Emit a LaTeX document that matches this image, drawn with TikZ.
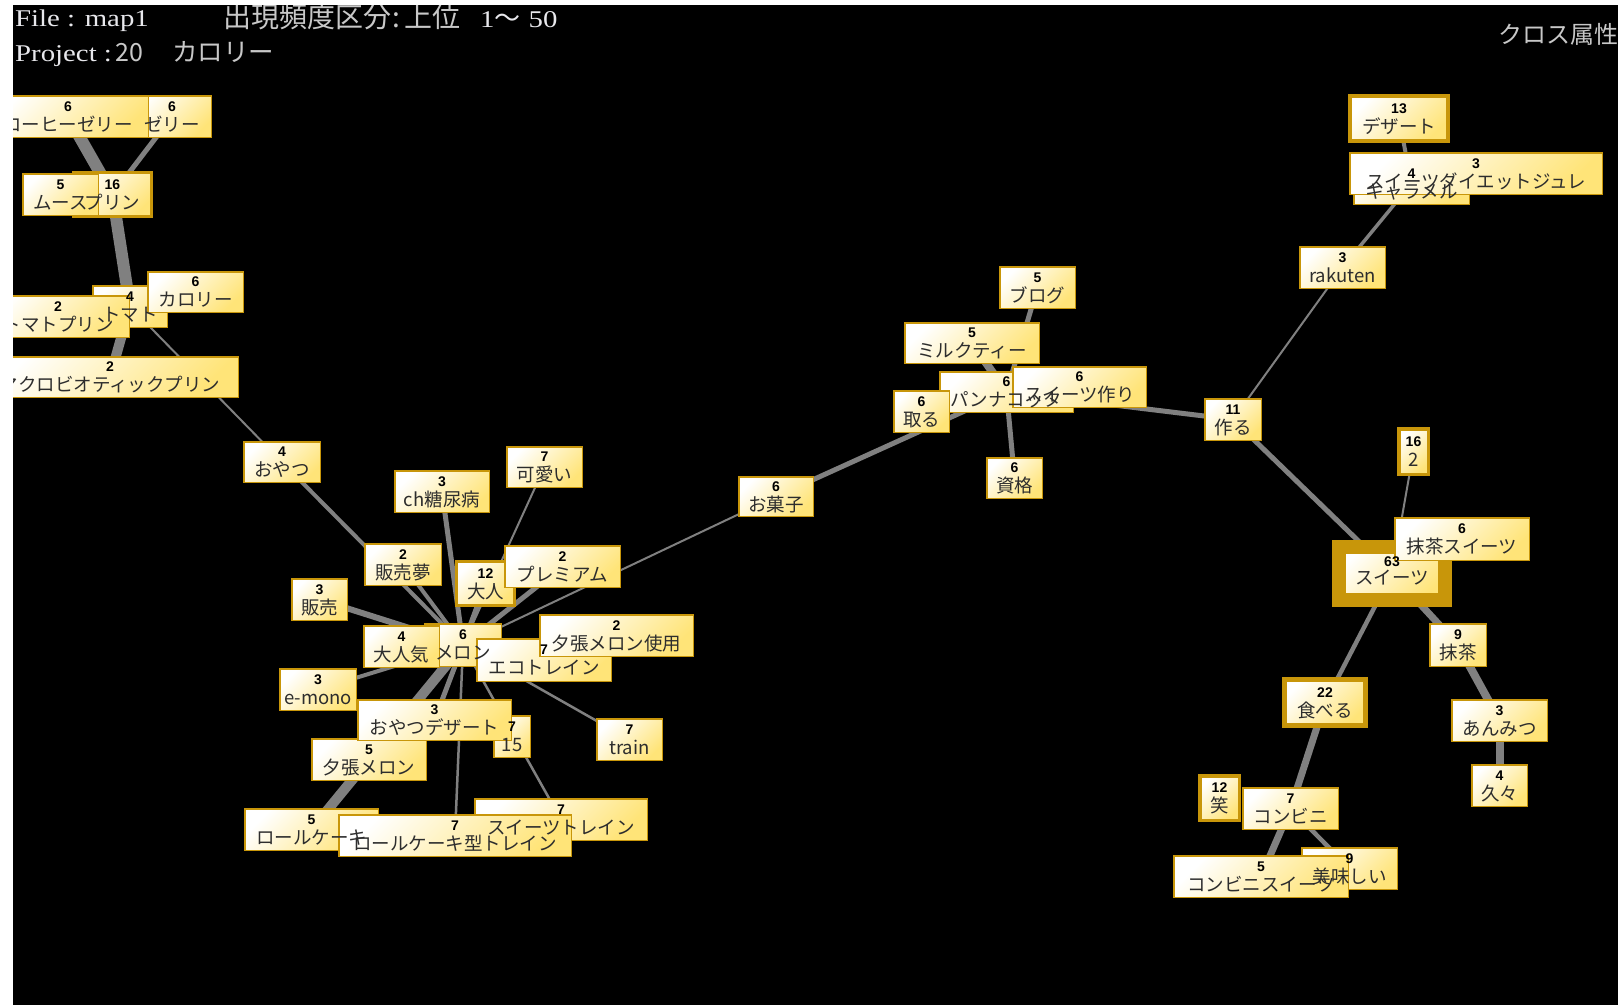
\documentclass[tikz,border=0pt]{standalone}
\usepackage{fontspec}
\setmainfont{Liberation Serif}
\newfontfamily\jp{Noto Sans CJK JP}
\newfontfamily\numf{Liberation Sans}
\newfontfamily\serfw{Liberation Serif}[FakeStretch=1.2]
\pgfdeclarelayer{back}
\pgfdeclarelayer{edges}
\pgfdeclarelayer{texts}
\pgfdeclarelayer{top}
\pgfsetlayers{back,edges,main,texts,top}
\definecolor{kyel}{RGB}{255,228,120}
\definecolor{kbord}{RGB}{200,150,10}
\definecolor{kedge}{RGB}{128,128,128}
\definecolor{kword}{RGB}{45,45,45}
\definecolor{khead}{RGB}{232,232,236}
\definecolor{khead2}{RGB}{200,200,200}
\tikzset{
  kb/.style={draw=kbord, top color=white, bottom color=kyel, shading angle=45,
    inner sep=0pt, outer sep=0pt, rectangle},
  numt/.style={font=\numf\bfseries\fontsize{14}{14}\selectfont, inner sep=0pt,
    text=black, text height=10pt, text depth=0pt},
  wordt/.style={font=\jp\fontsize{18.5}{18.5}\selectfont, inner sep=0pt,
    text=kword, text height=16pt, text depth=2.2pt},
  ed/.style={draw=kedge, line cap=butt},
  headt/.style={inner sep=0pt, anchor=base west},
}
% name, left, top, right, bottom, line width
\newcommand\kbx[6]{\node[kb, line width=#6pt,
  minimum width={(#4)-(#2)-(#6)}, minimum height={(#5)-(#3)-(#6)}]
  (#1) at ({((#2)+(#4))/2},{((#3)+(#5))/2}) {};}
\newcommand\klab[3]{\node[numt] (#1-n) at ([yshift=10.5pt]#1.center) {#2};
  \node[wordt] (#1-w) at ([yshift=-8pt]#1.center) {#3};}
\newcommand\klabx[5]{\node[numt] (#1-n) at ([yshift=#4pt]#1.center) {#2};
  \node[wordt] (#1-w) at ([yshift=#5pt]#1.center) {#3};}

\begin{document}
\begin{tikzpicture}[x=1pt,y=-1pt]
\useasboundingbox (0,0) rectangle (1618,1005);
\begin{pgfonlayer}{back}
  \fill[white] (0,0) rectangle (1618,1005);
  \fill[black] (13,5) rectangle (1618,1005);
\end{pgfonlayer}

% header
\node[headt, font=\serfw\fontsize{24}{24}\selectfont, text=khead] (hfile) at (15,26) {File : map1};
\node[headt, font=\jp\fontsize{28}{28}\selectfont, text=khead2] (hfreq) at (223,27)
  {出現頻度区分\kern1pt:\kern5pt上位};
\node[headt, font=\serfw\fontsize{24}{24}\selectfont, text=khead] (hrange) at (480,27)
  {1{\jp\fontsize{26}{26}\selectfont〜}\kern8pt 50};
\node[headt, font=\serfw\fontsize{24}{24}\selectfont, text=khead] (hproj) at (15,61) {Project :};
\node[headt, font=\jp\fontsize{25}{25}\selectfont, text=khead2] (hnum) at (115,61) {20};
\node[headt, font=\jp\fontsize{25.5}{25.5}\selectfont, text=khead2] (hcal) at (172,61) {カロリー};
\node[headt, font=\jp\fontsize{24}{24}\selectfont, text=khead2] (hcross) at (1498,43) {クロス属性};

% boxes
\kbx{zeri}{132}{95}{212}{138}{1.5}
\kbx{coffee}{-13}{95}{149}{138}{1.5}
\kbx{purin}{72}{171}{153}{218}{3}
\kbx{mousse}{22}{173}{99}{216}{1.5}
\kbx{tomato}{92}{285}{168}{328}{1.5}
\kbx{tomatopurin}{-14}{295}{130}{338}{1.5}
\kbx{calorie}{147}{271}{244}{313}{1.5}
\kbx{macro}{-19}{356}{239}{398}{1.5}
\kbx{oyatsu}{243}{441}{321}{483}{1.5}
\kbx{ch}{394}{470}{490}{513}{1.5}
\kbx{kawaii}{506}{446}{583}{488}{1.5}
\kbx{hanbaimu}{364}{543}{442}{586}{1.5}
\kbx{hanbai}{291}{578}{348}{621}{1.5}
\kbx{otona}{455}{560}{516}{607}{3}
\kbx{premium}{504}{545}{621}{588}{1.5}
\kbx{melon}{424}{623}{502}{667}{1.5}
\kbx{ninki}{363}{625}{440}{668}{1.5}
\kbx{eco}{476}{638}{612}{682}{1.5}
\kbx{yubariuse}{539}{614}{694}{657}{1.5}
\kbx{emono}{279}{668}{357}{711}{1.5}
\kbx{nfifteen}{493}{715}{531}{758}{1.5}
\kbx{yubari}{311}{738}{427}{781}{1.5}
\kbx{oyatsudessert}{357}{699}{512}{741}{1.5}
\kbx{train}{596}{718}{663}{761}{1.5}
\kbx{rollcake}{244}{808}{379}{851}{1.5}
\kbx{sweetstrain}{474}{798}{648}{841}{1.5}
\kbx{rolltrain}{338}{814}{572}{857}{1.5}
\kbx{okashi}{738}{476}{814}{517}{1.5}
\kbx{blog}{999}{266}{1076}{309}{1.5}
\kbx{milktea}{904}{322}{1040}{364}{1.5}
\kbx{panna}{939}{371}{1074}{413}{1.5}
\kbx{toru}{893}{390}{950}{433}{1.5}
\kbx{sweetsmake}{1012}{366}{1147}{408}{1.5}
\kbx{shikaku}{986}{457}{1043}{499}{1.5}
\kbx{tsukuru}{1204}{398}{1262}{441}{1.5}
\kbx{dessert}{1348}{94}{1450}{143}{4}
\kbx{caramel}{1353}{162}{1470}{205}{1.5}
\kbx{jure}{1349}{152}{1603}{195}{1.5}
\kbx{rakuten}{1299}{246}{1386}{289}{1.5}
\kbx{two}{1397}{427}{1430}{476}{3.5}
\kbx{sweets}{1332}{540}{1452}{607}{14}
\kbx{matchasweets}{1394}{517}{1530}{561}{1.5}
\kbx{matcha}{1429}{623}{1487}{667}{1.5}
\kbx{taberu}{1282}{677}{1368}{728}{5}
\kbx{anmitsu}{1451}{699}{1548}{742}{1.5}
\kbx{hisabisa}{1471}{764}{1528}{807}{1.5}
\kbx{warai}{1198}{774}{1241}{822}{3.5}
\kbx{konbini}{1242}{787}{1339}{830}{1.5}
\kbx{oishii}{1301}{847}{1398}{890}{1.5}
\kbx{konbinisweets}{1173}{855}{1349}{898}{1.5}

% edges
\begin{pgfonlayer}{edges}
\draw[ed, line width=12pt] (coffee.center) -- (purin.center);
\draw[ed, line width=5pt] (zeri.center) -- (purin.center);
\draw[ed, line width=12pt] (purin.center) -- (tomato.center);
\draw[ed, line width=10pt] (tomato.center) -- (macro.center);
\draw[ed, line width=2pt] (tomato.center) -- (oyatsu.center);
\draw[ed, line width=4pt] (oyatsu.center) -- (melon.center);
\draw[ed, line width=4pt] (hanbaimu.center) -- (melon.center);
\draw[ed, line width=6pt] (hanbai.center) -- (melon.center);
\draw[ed, line width=5pt] (ch.center) -- (melon.center);
\draw[ed, line width=2pt] (kawaii.center) -- (melon.center);
\draw[ed, line width=5pt] (otona.center) -- (melon.center);
\draw[ed, line width=5pt] (premium.center) -- (melon.center);
\draw[ed, line width=2pt] (melon.center) -- (okashi.center);
\draw[ed, line width=4pt] (emono.center) -- (melon.center);
\draw[ed, line width=10pt] (rollcake.center) -- (melon.center);
\draw[ed, line width=5pt] (oyatsudessert.center) -- (melon.center);
\draw[ed, line width=2.5pt] (rolltrain.center) -- (melon.center);
\draw[ed, line width=2.5pt] (melon.center) -- (train.center);
\draw[ed, line width=2.5pt] (melon.center) -- (sweetstrain.center);
\draw[ed, line width=2pt] (melon.center) -- (yubariuse.center);
\draw[ed, line width=5pt] (okashi.center) -- (panna.center);
\draw[ed, line width=8pt] (milktea.center) -- (panna.center);
\draw[ed, line width=5pt] (blog.center) -- (panna.center);
\draw[ed, line width=5pt] (shikaku.center) -- (panna.center);
\draw[ed, line width=5pt] (panna.center) -- (tsukuru.center);
\draw[ed, line width=2pt] (tsukuru.center) -- (rakuten.center);
\draw[ed, line width=3.5pt] (rakuten.center) -- (caramel.center);
\draw[ed, line width=4pt] (dessert.center) -- (caramel.center);
\draw[ed, line width=5pt] (tsukuru.center) -- (sweets.center);
\draw[ed, line width=2pt] (two.center) -- (sweets.center);
\draw[ed, line width=4.5pt] (sweets.center) -- (taberu.center);
\draw[ed, line width=7pt] (sweets.center) -- (matcha.center);
\draw[ed, line width=8pt] (matcha.center) -- (anmitsu.center);
\draw[ed, line width=8pt] (anmitsu.center) -- (hisabisa.center);
\draw[ed, line width=7pt] (taberu.center) -- (konbini.center);
\draw[ed, line width=7pt] (konbini.center) -- (konbinisweets.center);
\draw[ed, line width=4.5pt] (konbini.center) -- (oishii.center);
\end{pgfonlayer}

% texts
\begin{pgfonlayer}{texts}
\klab{zeri}{6}{ゼリー}
\klab{coffee}{6}{コーヒーゼリー}
\klab{purin}{16}{プリン}
\klab{mousse}{5}{ムース}
\klab{tomato}{4}{トマト}
\klab{tomatopurin}{2}{トマトプリン}
\klab{calorie}{6}{カロリー}
\klab{macro}{2}{マクロビオティックプリン}
\klab{oyatsu}{4}{おやつ}
\klab{ch}{3}{ch糖尿病}
\klab{kawaii}{7}{可愛い}
\klab{hanbaimu}{2}{販売夢}
\klab{hanbai}{3}{販売}
\klab{otona}{12}{大人}
\klab{premium}{2}{プレミアム}
\klab{melon}{6}{メロン}
\klab{ninki}{4}{大人気}
\klab{eco}{7}{エコトレイン}
\klab{yubariuse}{2}{夕張メロン使用}
\klab{emono}{3}{e-mono}
\klab{nfifteen}{7}{15}
\klab{yubari}{5}{夕張メロン}
\klab{oyatsudessert}{3}{おやつデザート}
\klab{train}{7}{train}
\klab{rollcake}{5}{ロールケーキ}
\klab{sweetstrain}{7}{スイーツトレイン}
\klab{rolltrain}{7}{ロールケーキ型トレイン}
\klab{okashi}{6}{お菓子}
\klab{blog}{5}{ブログ}
\klab{milktea}{5}{ミルクティー}
\klab{panna}{6}{パンナコッタ}
\klab{toru}{6}{取る}
\klab{sweetsmake}{6}{スイーツ作り}
\klab{shikaku}{6}{資格}
\klab{tsukuru}{11}{作る}
\klab{dessert}{13}{デザート}
\klab{caramel}{4}{キャラメル}
\klab{jure}{3}{スイーツダイエットジュレ}
\klab{rakuten}{3}{rakuten}
\klab{two}{16}{2}
\klabx{sweets}{63}{スイーツ}{12.5}{-4.5}
\klab{matchasweets}{6}{抹茶スイーツ}
\klab{matcha}{9}{抹茶}
\klab{taberu}{22}{食べる}
\klab{anmitsu}{3}{あんみつ}
\klab{hisabisa}{4}{久々}
\klab{warai}{12}{笑}
\klab{konbini}{7}{コンビニ}
\klab{oishii}{9}{美味しい}
\klab{konbinisweets}{5}{コンビニスイーツ}
\end{pgfonlayer}

\begin{pgfonlayer}{top}
  \fill[white] (0,0) rectangle (13,1005);
  \fill[white] (0,0) rectangle (1618,5);
\end{pgfonlayer}
\end{tikzpicture}
\end{document}
